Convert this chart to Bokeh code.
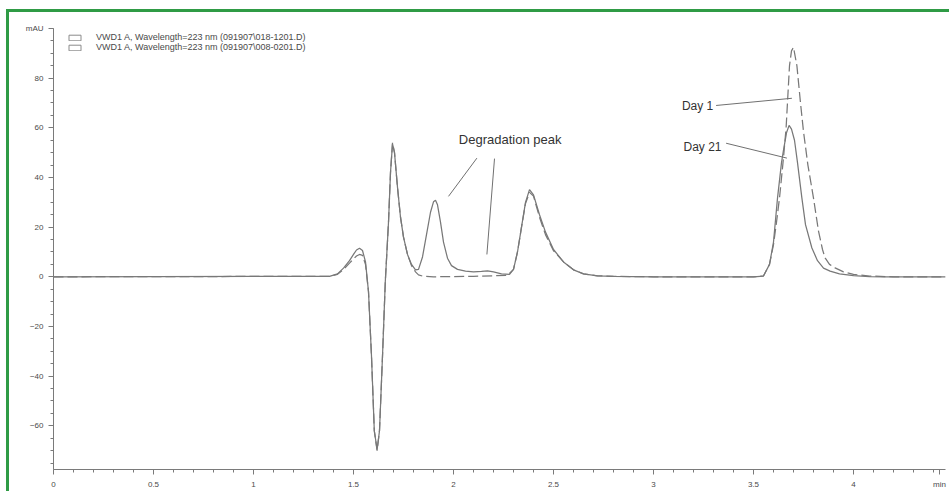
from bokeh.plotting import figure
from bokeh.models import Range1d, FixedTicker, Label, Legend, LegendItem
from bokeh.embed import file_html
from bokeh.resources import INLINE

nan = float("nan")

# ---- data (time in min, signal in mAU) ----
time_day21 = [0.00, 1.38, 1.42, 1.45, 1.48, 1.50, 1.515, 1.53, 1.545, 1.56, 1.575, 1.59, 1.604, 1.618,
              1.63, 1.645, 1.659, 1.675, 1.685, 1.695, 1.705, 1.72, 1.735, 1.75, 1.77, 1.79, 1.81, 1.825,
              1.845, 1.865, 1.885, 1.90, 1.91, 1.92, 1.935, 1.95, 1.97, 1.99, 2.02, 2.06, 2.10, 2.14,
              2.17, 2.20, 2.24, 2.28, 2.30, 2.32, 2.34, 2.36, 2.38, 2.40, 2.43, 2.46, 2.50, 2.55, 2.60,
              2.65, 2.72, 2.80, 3.00, 3.50, 3.55, 3.58, 3.60, 3.62, 3.64, 3.65, 3.665, 3.678, 3.69,
              3.705, 3.72, 3.742, 3.76, 3.792, 3.82, 3.85, 3.883, 3.93, 4.00, 4.08, 4.15, 4.46]
mau_day21 = [0.0, 0.2, 1.2, 3.5, 6.5, 9.0, 10.8, 11.5, 10.6, 6.0, -6, -32, -62, -69.6,
             -62, -32, -2, 22, 42, 53.5, 50, 36, 24, 16, 9, 5, 2.8, 3.0,
             8, 17, 26, 30.2, 30.8, 29, 22, 14, 7.5, 4.5, 3.0, 2.3, 2.0, 2.2,
             2.4, 2.0, 1.2, 1.0, 3, 10, 20, 30, 35.1, 33, 25, 18, 11, 6, 2.8,
             1.2, 0.4, 0.2, 0.0, 0.0, 0.3, 5, 14, 31.7, 46, 51, 58, 61, 59.5,
             55, 46, 31.7, 21, 11.6, 6.5, 3.5, 2.3, 1.2, 0.5, 0.1, 0.0, 0.0]

time_day1 = [0.00, 1.38, 1.42, 1.45, 1.48, 1.50, 1.515, 1.53, 1.545, 1.56, 1.575, 1.59, 1.604, 1.618,
             1.63, 1.645, 1.659, 1.675, 1.685, 1.695, 1.705, 1.72, 1.735, 1.75, 1.77, 1.79, 1.81, 1.825,
             1.845, 1.90, 2.00, 2.10, 2.20, 2.27, 2.30, 2.32, 2.34, 2.36, 2.38, 2.40, 2.43, 2.46, 2.50,
             2.55, 2.60, 2.65, 2.72, 2.80, 3.00, 3.50, 3.55, 3.58, 3.60, 3.615, 3.63, 3.65, 3.663, 3.68,
             3.69, 3.70, 3.717, 3.735, 3.75, 3.772, 3.80, 3.825, 3.845, 3.858, 3.88, 3.908, 3.95, 4.00,
             4.08, 4.20, 4.46]
mau_day1 = [0.0, 0.2, 1.0, 3.0, 5.5, 7.2, 8.4, 9.0, 8.6, 5.0, -6, -32, -62, -70,
            -62, -32, -2, 22, 42, 54, 50, 36, 24, 16, 9, 4.5, 2.0, 0.8,
            0.3, 0.0, 0.1, 0.2, 0.4, 0.6, 3, 10, 20, 29.5, 34, 32.5, 24, 17, 10.5,
            6, 2.8, 1.2, 0.4, 0.2, 0.0, 0.0, 0.4, 5, 13, 22, 31.7, 48, 60, 85,
            91, 92.4, 85, 70, 58.5, 45, 31.7, 18.4, 11, 7.6, 5, 3.6, 2.0, 1.0,
            0.3, 0.0, 0.0]

legend_labels = ["VWD1 A, Wavelength=223 nm (091907\\018-1201.D)",
                 "VWD1 A, Wavelength=223 nm (091907\\008-0201.D)"]

x_major_ticks = [0, 0.5, 1, 1.5, 2, 2.5, 3, 3.5, 4, 4.43]
x_tick_labels = {4.43: "min"}
x_minor_ticks = [i / 10 for i in range(0, 45)]
y_major_ticks = [-60, -40, -20, 0, 20, 40, 60, 80, 100]
y_tick_labels = {100: "mAU"}
y_minor_ticks = [i * 5 for i in range(-15, 21)]

# annotations: text, anchor, and leader lines (time, mAU)
note_texts = ["Degradation peak", "Day 1", "Day 21"]
note_x = [2.283, 3.142, 3.150]
note_y = [55.3, 68.6, 52.2]
note_align = ["center", "left", "left"]
note_size = ["13px", "12px", "12px"]
lead_x0 = [2.117, 2.205, 3.313, 3.363]
lead_y0 = [47.8, 47.6, 69.0, 53.8]
lead_x1 = [1.975, 2.167, 3.692, 3.667]
lead_y1 = [32.4, 9.0, 71.9, 47.8]

X_RANGE = (0, 4.46)
Y_RANGE = (-77.6, 100)

LINE = "#787878"
AXIS = "#7a7a7a"
TXT = "#4a4a4a"
FONT = "Liberation Sans"
GREEN = "#2f9b45"

p = figure(frame_width=892, frame_height=441, min_border_left=44, min_border_right=4,
           min_border_top=16, min_border_bottom=20,
           x_range=Range1d(*X_RANGE), y_range=Range1d(*Y_RANGE),
           output_backend="svg", toolbar_location=None)
p.styles = {"margin-left": "6px", "margin-top": "9px",
            "border-top": f"3px solid {GREEN}", "border-left": f"3px solid {GREEN}"}
p.outline_line_color = None
p.xgrid.visible = False
p.ygrid.visible = False
p.background_fill_color = "white"
p.border_fill_color = "white"

r21 = p.line(time_day21, mau_day21, line_color=LINE, line_width=1.25)
r1 = p.line(time_day1, mau_day1, line_color=LINE, line_width=1.25, line_dash="10 4")

# legend swatches (box style, nothing drawn in the plot)
sw1 = p.quad(left=[nan], right=[nan], top=[nan], bottom=[nan],
             fill_color="white", line_color="#8a8a8a", line_width=1)
sw2 = p.quad(left=[nan], right=[nan], top=[nan], bottom=[nan],
             fill_color="white", line_color="#8a8a8a", line_width=1)
leg = Legend(items=[LegendItem(label=legend_labels[0], renderers=[sw1]),
                    LegendItem(label=legend_labels[1], renderers=[sw2])],
             location=(14, 417), margin=0, padding=0, spacing=0,
             glyph_width=15, glyph_height=7, label_height=9, label_standoff=14,
             label_text_font=FONT, label_text_font_size="9px", label_text_color=TXT,
             border_line_color=None, background_fill_alpha=0)
p.add_layout(leg)

# axes
xa = p.xaxis[0]
xa.ticker = FixedTicker(ticks=x_major_ticks, minor_ticks=x_minor_ticks)
xa.major_label_overrides = x_tick_labels
ya = p.yaxis[0]
ya.ticker = FixedTicker(ticks=y_major_ticks, minor_ticks=y_minor_ticks)
ya.major_label_overrides = y_tick_labels
for ax in (xa, ya):
    ax.axis_line_color = AXIS
    ax.major_tick_line_color = AXIS
    ax.minor_tick_line_color = AXIS
    ax.major_tick_in = 0
    ax.minor_tick_in = 0
    ax.major_label_text_font = FONT
    ax.major_label_text_font_size = "8px"
    ax.major_label_text_color = TXT
xa.major_tick_out = 5
xa.minor_tick_out = 3
xa.major_label_standoff = 5
ya.major_tick_out = 5
ya.minor_tick_out = 3
ya.major_label_standoff = 5

# annotations
p.segment(x0=lead_x0, y0=lead_y0, x1=lead_x1, y1=lead_y1, line_color="#707070", line_width=1)
for t, x, y, a, s in zip(note_texts, note_x, note_y, note_align, note_size):
    p.add_layout(Label(x=x, y=y, text=t, text_align=a, text_baseline="middle",
                       text_font=FONT, text_font_size=s, text_color="#333333"))

open("out.html", "w").write(file_html(p, INLINE))
